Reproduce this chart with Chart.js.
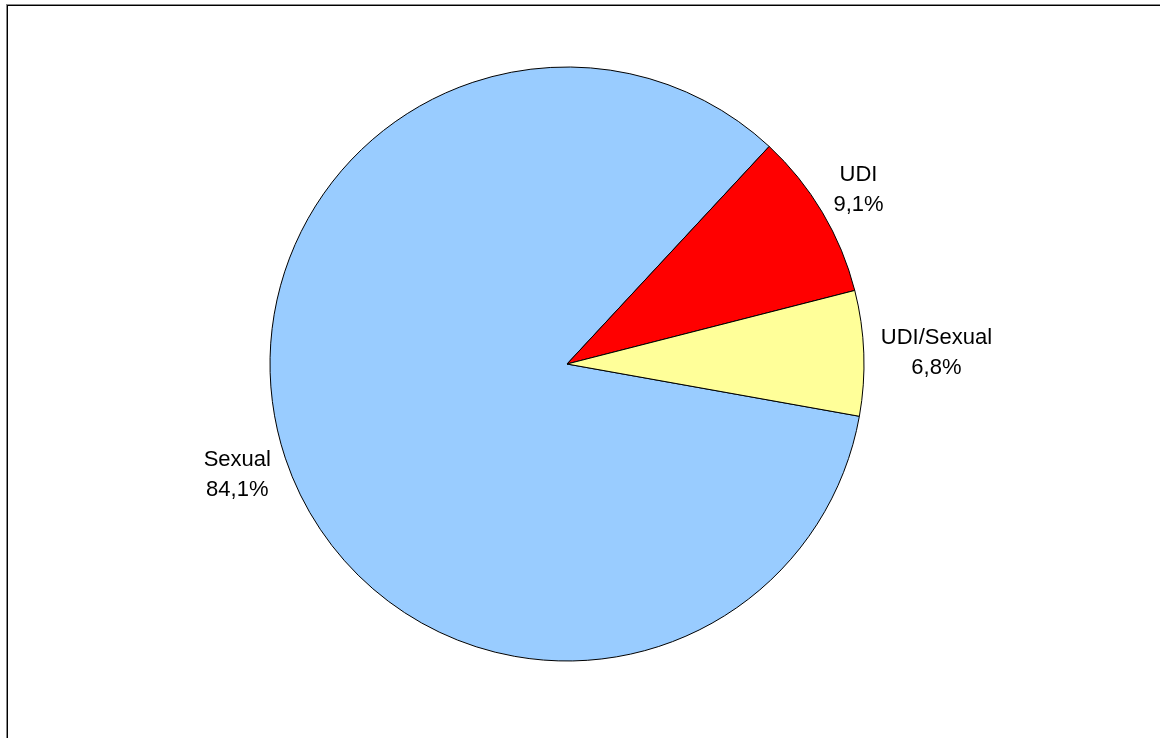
<!DOCTYPE html>
<html>
<head>
<meta charset="utf-8">
<title>Modo de transmisión</title>
<script src="https://cdn.jsdelivr.net/npm/chart.js@4/dist/chart.umd.min.js"></script>
<style>
  html, body { margin: 0; padding: 0; background: #fff; overflow: hidden; }
  .frame {
    position: absolute; left: 7px; top: 5px; width: 1300px; height: 900px;
    border-top: 1px solid #000; border-left: 1px solid #000;
    box-shadow: -1px -1px 0 #888;
  }
  #pie { position: absolute; left: 0; top: 0; }
</style>
</head>
<body>
<div class="frame"></div>
<canvas id="pie" width="1160" height="738"></canvas>
<script>
const labels = ['Sexual', 'UDI', 'UDI/Sexual'];
const shares = [84.1, 9.1, 6.8];
const sliceColors = ['#99CCFF', '#FF0000', '#FFFF99'];

// two-line labels (name + percent) placed just outside each slice
const outsideLabels = {
  id: 'outsideLabels',
  afterDatasetsDraw(chart) {
    const ctx = chart.ctx;
    const meta = chart.getDatasetMeta(0);
    const gap = 17, lineH = 30, fontSize = 22;
    ctx.save();
    ctx.font = fontSize + 'px "Liberation Sans", Arial, sans-serif';
    ctx.fillStyle = '#000';
    ctx.textAlign = 'center';
    ctx.textBaseline = 'alphabetic';
    meta.data.forEach((arc, i) => {
      const { x, y, startAngle, endAngle, outerRadius } = arc.getProps(['x', 'y', 'startAngle', 'endAngle', 'outerRadius'], true);
      const mid = (startAngle + endAngle) / 2;
      const c = Math.cos(mid), s = Math.sin(mid);
      const lines = [labels[i], shares[i].toFixed(1).replace('.', ',') + '%'];
      const w = Math.max(...lines.map(t => ctx.measureText(t).width));
      const h = lineH * lines.length;
      const cx = x + (outerRadius + gap) * c + c * w / 2;
      const cy = y + (outerRadius + gap) * s + s * h / 2;
      lines.forEach((t, k) => {
        const ly = cy - h / 2 + lineH * k + lineH / 2 + 8;
        ctx.fillText(t, cx, ly);
      });
    });
    ctx.restore();
  }
};

new Chart(document.getElementById('pie'), {
  type: 'pie',
  data: {
    labels: labels,
    datasets: [{
      data: shares,
      backgroundColor: sliceColors,
      borderColor: '#000',
      borderWidth: 1,
    }],
  },
  options: {
    responsive: false,
    devicePixelRatio: 1,
    animation: false,
    rotation: 100.14,
    radius: 297,
    layout: { padding: { left: 0, right: 26, top: 0, bottom: 10 } },
    plugins: {
      legend: { display: false },
      tooltip: { enabled: false },
    },
  },
  plugins: [outsideLabels],
});
</script>
</body>
</html>
